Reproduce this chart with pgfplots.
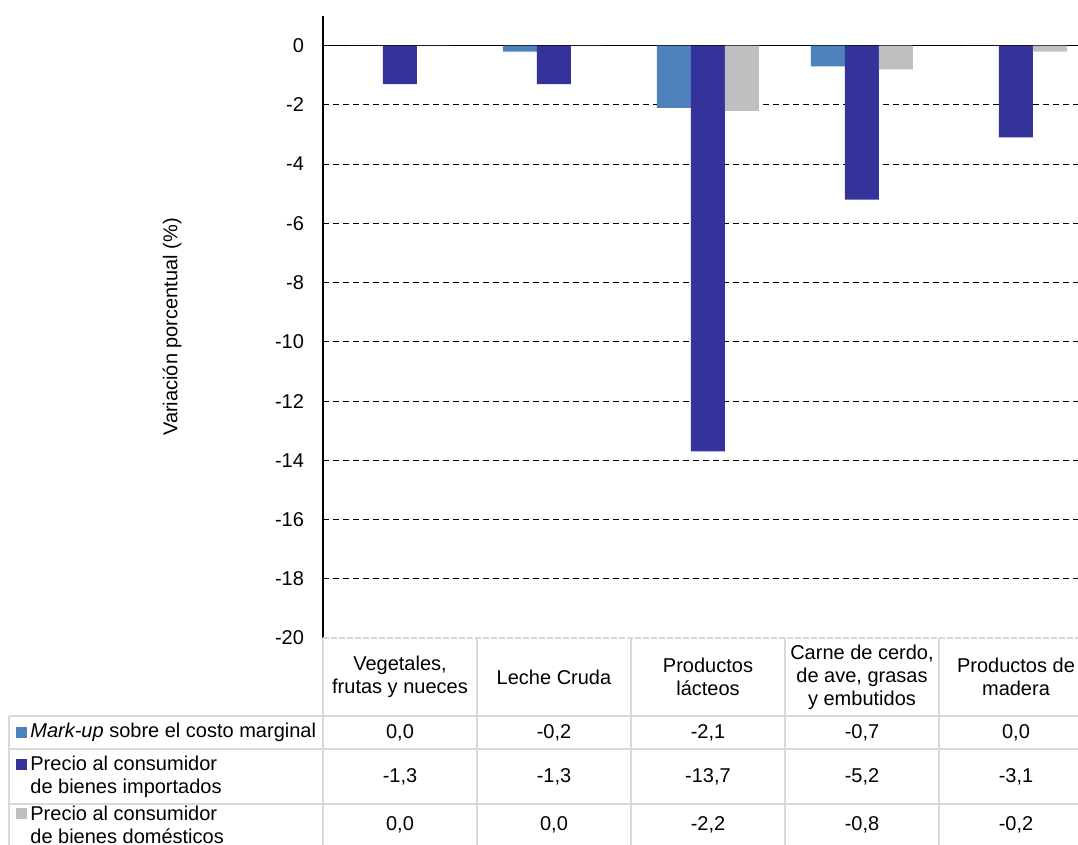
\documentclass[border=0pt]{standalone}
\usepackage{fontspec}
\setmainfont{Liberation Sans}
\usepackage{pgfplots}
\usepackage{pgfplotstable}
\pgfplotsset{compat=1.18}

\definecolor{markup}{RGB}{79,129,189}
\definecolor{importados}{RGB}{51,51,153}
\definecolor{domesticos}{RGB}{191,191,191}
\definecolor{borde}{RGB}{217,217,217}

\newcommand{\ff}{\fontsize{10}{11.5}\selectfont}

% variacion porcentual por sector
\pgfplotstableread{
x mk imp dom
0 0.0 -1.3 0.0
1 -0.2 -1.3 0.0
2 -2.1 -13.7 -2.2
3 -0.7 -5.2 -0.8
4 0.0 -3.1 -0.2
}\datos

\begin{document}
\begin{tikzpicture}[x=1pt,y=1pt]
\useasboundingbox (-161.5,-103.5) rectangle (377.5,319);
\begin{axis}[
    at={(0,0)}, anchor=south west,
    scale only axis, width=385pt, height=311pt,
    xmin=-0.5, xmax=4.5, ymin=-20, ymax=1,
    ybar, bar width=17pt,
    axis x line=none, axis y line=left,
    axis line style={-, black, line width=0.6pt},
    ytick={-20,-18,...,0},
    yticklabels={-20,-18,-16,-14,-12,-10,-8,-6,-4,-2,0},
    major tick length=0pt,
    yticklabel style={font=\ff, xshift=-6pt},
    ymajorgrids,
    major grid style={black, line width=0.5pt, dash pattern=on 3pt off 2pt},
    extra y ticks={0}, extra y tick labels={},
    extra y tick style={major grid style={solid, black, line width=0.6pt}},
    ylabel={Variación porcentual (\%)},
    ylabel style={font=\ff, at={(axis description cs:0,0.5)}, anchor=center, yshift=75.5pt},
    clip=false,
  ]
  \addplot[fill=markup, draw=none, bar shift=-17pt] table[x=x, y=mk]{\datos};
  \addplot[fill=importados, draw=none, bar shift=0pt] table[x=x, y=imp]{\datos};
  \addplot[fill=domesticos, draw=none, bar shift=17pt] table[x=x, y=dom]{\datos};
\end{axis}

% tabla de datos
\draw[white, line width=1pt] (0,0) -- (385,0);
\draw[borde, line width=1pt, dash pattern=on 3pt off 1pt] (0,0) -- (385,0);
\foreach \i in {0,...,4} \draw[borde, line width=1pt] (\i*77,0) -- (\i*77,-103.5);
\draw[borde, line width=1pt] (-157,-39) -- (-157,-103.5);
\foreach \y in {39,55.5,83} \draw[borde, line width=1pt] (-157,-\y) -- (385,-\y);

\node[font=\ff, align=center] at (38.5,-19.5) {Vegetales,\\frutas y nueces};
\node[font=\ff, align=center] at (115.5,-19.5) {Leche Cruda};
\node[font=\ff, align=center] at (192.5,-19.5) {Productos\\lácteos};
\node[font=\ff, align=center] at (269.5,-19.5) {Carne de cerdo,\\de ave, grasas\\y embutidos};
\node[font=\ff, align=center] at (346.5,-19.5) {Productos de\\madera};

\foreach \c/\yy in {mk/47.25, imp/69.25, dom/93.5} {
  \foreach \i in {0,...,4} {
    \pgfplotstablegetelem{\i}{\c}\of\datos
    \node[font=\ff] at ({(\i+0.5)*77}, -\yy) {\pgfmathprintnumber[fixed, fixed zerofill, precision=1, use comma, assume math mode=true]{\pgfplotsretval}};
  }
}

\fill[markup] (-153.5,-50) rectangle (-148,-44.5);
\node[font=\ff, anchor=west, inner sep=0pt] at (-146.5,-47.25) {\textit{Mark-up} sobre el costo marginal};
\fill[importados] (-153.5,-66.25) rectangle (-148,-60.75);
\node[font=\ff, anchor=west, align=left, inner sep=0pt] at (-146.5,-69.25) {Precio al consumidor\\de bienes importados};
\fill[domesticos] (-153.5,-90.5) rectangle (-148,-85);
\node[font=\ff, anchor=west, align=left, inner sep=0pt] at (-146.5,-93.5) {Precio al consumidor\\de bienes domésticos};
\end{tikzpicture}
\end{document}
